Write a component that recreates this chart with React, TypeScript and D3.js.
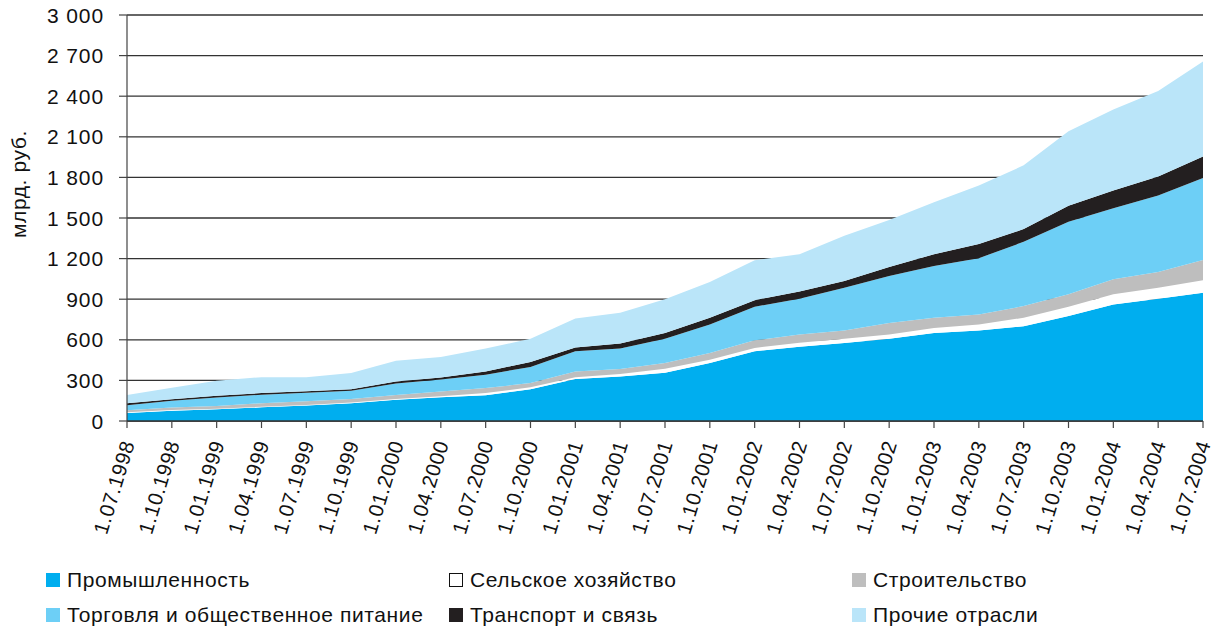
import React from "react";
import * as d3 from "d3";

const dates = ["1.07.1998","1.10.1998","1.01.1999","1.04.1999","1.07.1999","1.10.1999","1.01.2000","1.04.2000","1.07.2000","1.10.2000","1.01.2001","1.04.2001","1.07.2001","1.10.2001","1.01.2002","1.04.2002","1.07.2002","1.10.2002","1.01.2003","1.04.2003","1.07.2003","1.10.2003","1.01.2004","1.04.2004","1.07.2004"];

const industry = [60,75,86,101,114,131,157,176,191,235,310,329,356,428,515,548,577,607,651,668,700,775,861,904,948];
const agriculture = [5,6,5,5,5,5,6,6,15,15,14,18,30,25,25,30,30,32,37,45,63,69,75,81,92];
const construction = [14,18,20,25,27,27,30,36,37,30,42,37,42,50,56,61,61,86,75,74,86,92,111,116,150];
const trade = [37,50,63,63,62,60,84,89,99,119,149,151,179,210,248,265,317,347,383,416,475,537,525,565,605];
const transport = [15,12,12,12,12,12,15,15,24,37,29,37,44,50,49,52,50,66,87,104,94,118,131,141,160];
const other = [62,84,111,118,104,119,154,151,169,171,213,228,248,264,295,277,334,347,384,433,471,550,599,631,701];

const seriesNames = ["Промышленность","Сельское хозяйство","Строительство","Торговля и общественное питание","Транспорт и связь","Прочие отрасли"];
const seriesColors = ["#00AEEF","#FFFFFF","#BEBEBE","#6DCFF6","#231F20","#BAE5F9"];
const yTicks = [0,300,600,900,1200,1500,1800,2100,2400,2700,3000];
const yTitle = "млрд. руб.";

const W = 1215, H = 630;
const left = 127, right = 1203, top = 15, bottom = 421;
const font = "'Liberation Sans', Arial, Helvetica, sans-serif";

export default function App() {
  const seriesArrays = [industry, agriculture, construction, trade, transport, other];
  const rows = dates.map((d, i) => {
    const r: any = { date: d };
    seriesNames.forEach((n, k) => (r[n] = seriesArrays[k][i]));
    return r;
  });
  const stack = d3.stack<any>().keys(seriesNames);
  const layers = stack(rows);
  const x = d3.scalePoint<string>().domain(dates).range([left, right]);
  const y = d3.scaleLinear().domain([0, 3000]).range([bottom, top]);
  const area = d3.area<any>()
    .x((d) => x(d.data.date) as number)
    .y0((d) => y(d[0]))
    .y1((d) => y(d[1]));
  const fmt = (v: number) => d3.format(",")(v).replace(/,/g, " ");

  const legendCols = [46, 449, 852];
  const legendRows = [573, 608];

  return (
    <svg width={W} height={H} style={{ position: "absolute", left: 0, top: 0, background: "#fff" }} fontFamily={font}>
      {yTicks.map((t) => (
        <line key={"g" + t} x1={left} x2={right} y1={y(t)} y2={y(t)} stroke="#333" strokeWidth={1.3} />
      ))}
      {layers.map((l, i) => (
        <path key={"a" + i} d={area(l) as string} fill={seriesColors[i]} />
      ))}
      <line x1={left} x2={left} y1={top} y2={bottom} stroke="#444" strokeWidth={1.2} />
      <line x1={left} x2={right} y1={bottom} y2={bottom} stroke="#333" strokeWidth={1.3} />
      {yTicks.map((t) => (
        <g key={"yt" + t}>
          <line x1={left - 8} x2={left} y1={y(t)} y2={y(t)} stroke="#444" strokeWidth={1.2} />
          <text x={104} y={y(t)} dy="0.36em" textAnchor="end" fontSize={21} letterSpacing={0.9} fill="#111">{fmt(t)}</text>
        </g>
      ))}
      {dates.map((d) => (
        <g key={"xt" + d}>
          <line x1={x(d)} x2={x(d)} y1={bottom} y2={bottom + 7} stroke="#444" strokeWidth={1.2} />
          <text transform={`translate(${(x(d) as number) + 1},${bottom + 20}) rotate(-73)`} dy="0.36em" textAnchor="end" fontSize={20.5} letterSpacing={0.6} fill="#111">{d}</text>
        </g>
      ))}
      <text transform={`translate(18,184) rotate(-90)`} dy="0.36em" textAnchor="middle" fontSize={21} letterSpacing={0.6} fill="#111">{yTitle}</text>
      {seriesNames.map((n, i) => {
        const cx = legendCols[i % 3];
        const cy = legendRows[Math.floor(i / 3)];
        return (
          <g key={"lg" + i}>
            <rect x={cx + (i === 1 ? 0.5 : 0)} y={cy + (i === 1 ? 0.5 : 0)} width={i === 1 ? 13 : 14} height={i === 1 ? 13 : 14} fill={seriesColors[i]} stroke={i === 1 ? "#111" : "none"} strokeWidth={1} />
            <text x={cx + 21} y={cy + 14} fontSize={21} letterSpacing={0.6} fill="#111">{n}</text>
          </g>
        );
      })}
    </svg>
  );
}
